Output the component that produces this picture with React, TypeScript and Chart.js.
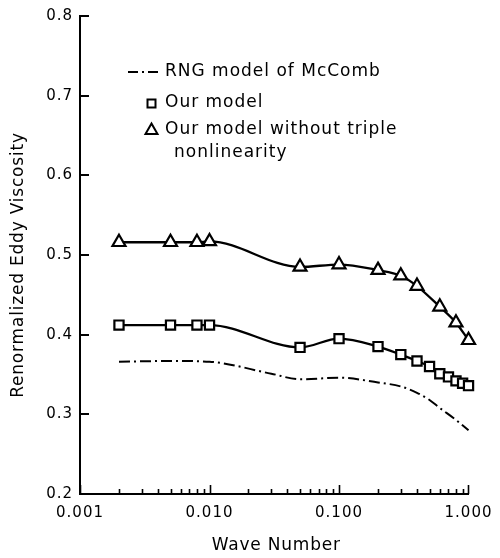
import React, { useEffect, useRef } from "react";
import { Chart, registerables } from "chart.js";

Chart.register(...registerables);

// Wave numbers and values
const waveNumbersOurModel = [0.002, 0.005, 0.008, 0.01, 0.05, 0.1, 0.2, 0.3, 0.4, 0.5, 0.6, 0.7, 0.8, 0.9, 1.0];
const ourModel = [0.412, 0.412, 0.412, 0.412, 0.384, 0.395, 0.385, 0.375, 0.367, 0.36, 0.351, 0.347, 0.342, 0.339, 0.336];

const waveNumbersNoTriple = [0.002, 0.005, 0.008, 0.01, 0.05, 0.1, 0.2, 0.3, 0.4, 0.6, 0.8, 1.0];
const ourModelNoTriple = [0.516, 0.516, 0.516, 0.517, 0.485, 0.488, 0.481, 0.474, 0.461, 0.435, 0.415, 0.393];

const waveNumbersRng = [0.002, 0.005, 0.01, 0.03, 0.05, 0.1, 0.2, 0.3, 0.4, 0.5, 0.6, 0.8, 1.0];
const rngMcComb = [0.366, 0.367, 0.366, 0.351, 0.344, 0.346, 0.34, 0.335, 0.327, 0.318, 0.308, 0.293, 0.28];

const xTickValues = [0.001, 0.01, 0.1, 1.0];
const xMinorDecades = [0.001, 0.01, 0.1];
const yTickValues = [0.2, 0.3, 0.4, 0.5, 0.6, 0.7, 0.8];

const legendLabels = ["RNG model of McComb", "Our model", "Our model without triple", "nonlinearity"];
const xTitle = "Wave Number";
const yTitle = "Renormalized Eddy Viscosity";

const FONT = "DejaVu Sans";

const annotate = {
  id: "annotate",
  beforeDraw(chart: any) {
    chart.ctx.letterSpacing = "1px";
  },
  afterDraw(chart: any) {
    const ctx = chart.ctx;
    const xs = chart.scales.x;
    const ys = chart.scales.y;
    const area = chart.chartArea;
    ctx.save();
    ctx.strokeStyle = "#000";
    ctx.fillStyle = "#000";
    ctx.lineWidth = 1.6;
    // inward x ticks
    ctx.beginPath();
    xMinorDecades.forEach((d) => {
      for (let k = 1; k <= 9; k++) {
        const px = Math.round(xs.getPixelForValue(k * d)) + 0.5;
        const len = k === 1 ? 9 : 5;
        ctx.moveTo(px, area.bottom);
        ctx.lineTo(px, area.bottom - len);
      }
    });
    const p1 = Math.round(xs.getPixelForValue(1.0)) - 0.5;
    ctx.moveTo(p1, area.bottom);
    ctx.lineTo(p1, area.bottom - 9);
    ctx.stroke();
    // inward y ticks
    ctx.lineWidth = 2;
    ctx.beginPath();
    yTickValues.forEach((v) => {
      const py = Math.round(ys.getPixelForValue(v));
      ctx.moveTo(area.left, py);
      ctx.lineTo(area.left + 9, py);
    });
    ctx.stroke();

    // axis titles
    ctx.font = `17px "${FONT}"`;
    ctx.letterSpacing = "0.8px";
    ctx.textAlign = "center";
    ctx.textBaseline = "middle";
    ctx.fillText(xTitle, (area.left + area.right) / 2 + 2, 546);
    ctx.save();
    ctx.translate(19, 265);
    ctx.rotate(-Math.PI / 2);
    ctx.fillText(yTitle, 0, 0);
    ctx.restore();

    // legend
    ctx.textAlign = "left";
    ctx.letterSpacing = "1px";
    ctx.font = `17px "${FONT}"`;
    ctx.lineWidth = 2;
    ctx.setLineDash([10, 4, 2, 4]);
    ctx.beginPath();
    ctx.moveTo(128, 72);
    ctx.lineTo(162, 72);
    ctx.stroke();
    ctx.setLineDash([]);
    ctx.fillText(legendLabels[0], 165, 72);

    ctx.lineWidth = 2;
    ctx.strokeRect(147.5, 99.5, 8, 8);
    ctx.fillText(legendLabels[1], 165, 103);

    ctx.beginPath();
    ctx.moveTo(151.5, 123.5);
    ctx.lineTo(157.5, 134);
    ctx.lineTo(145.5, 134);
    ctx.closePath();
    ctx.stroke();
    ctx.fillText(legendLabels[2], 165, 130);
    ctx.fillText(legendLabels[3], 174, 153);
    ctx.restore();
  },
};

export default function App() {
  const ref = useRef<HTMLCanvasElement | null>(null);
  useEffect(() => {
    document.body.style.margin = "0";
    Chart.defaults.font.family = FONT;
    Chart.defaults.color = "#000";
    const chart = new Chart(ref.current as HTMLCanvasElement, {
      type: "line",
      data: {
        datasets: [
          {
            label: legendLabels[0],
            data: waveNumbersRng.map((x, i) => ({ x, y: rngMcComb[i] })),
            borderColor: "#000",
            borderWidth: 2,
            borderDash: [11, 4, 2, 4],
            pointRadius: 0,
            cubicInterpolationMode: "monotone",
            fill: false,
            clip: false,
          },
          {
            label: legendLabels[1],
            data: waveNumbersOurModel.map((x, i) => ({ x, y: ourModel[i] })),
            borderColor: "#000",
            borderWidth: 2.3,
            pointStyle: "rect",
            pointRadius: 6.5,
            pointBorderWidth: 2.2,
            pointBackgroundColor: "#fff",
            pointBorderColor: "#000",
            cubicInterpolationMode: "monotone",
            fill: false,
            clip: false,
          },
          {
            label: legendLabels[2] + " " + legendLabels[3],
            data: waveNumbersNoTriple.map((x, i) => ({ x, y: ourModelNoTriple[i] })),
            borderColor: "#000",
            borderWidth: 2.3,
            pointStyle: "triangle",
            pointRadius: 7.5,
            pointBorderWidth: 2.2,
            pointBackgroundColor: "#fff",
            pointBorderColor: "#000",
            cubicInterpolationMode: "monotone",
            fill: false,
            clip: false,
          },
        ],
      },
      options: {
        animation: false,
        responsive: false,
        layout: { padding: { top: 9, right: 29, left: 0, bottom: 0 } },
        plugins: { legend: { display: false }, tooltip: { enabled: false } },
        scales: {
          x: {
            type: "logarithmic",
            min: 0.001,
            max: 1.0,
            grid: { display: false, drawTicks: false },
            border: { display: true, color: "#000", width: 2 },
            afterBuildTicks: (scale: any) => {
              scale.ticks = xTickValues.map((v) => ({ value: v, major: true }));
            },
            afterFit: (scale: any) => {
              scale.height = 64;
            },
            ticks: {
              autoSkip: false,
              maxRotation: 0,
              padding: 10,
              font: { size: 15, family: FONT },
              color: "#000",
              callback: (v: any) => Number(v).toFixed(3),
            },
          },
          y: {
            type: "linear",
            min: 0.2,
            max: 0.8,
            grid: { display: false, drawTicks: false },
            border: { display: true, color: "#000", width: 2 },
            afterBuildTicks: (scale: any) => {
              scale.ticks = yTickValues.map((v) => ({ value: v }));
            },
            afterFit: (scale: any) => {
              scale.width = 80;
            },
            ticks: {
              padding: 7,
              font: { size: 15, family: FONT },
              color: "#000",
              callback: (v: any) => Number(v).toFixed(1),
            },
          },
        },
      },
      plugins: [annotate],
    } as any);
    return () => chart.destroy();
  }, []);
  return (
    <div style={{ width: 500, height: 558, background: "#fff" }}>
      <canvas ref={ref} width={500} height={558} />
    </div>
  );
}
